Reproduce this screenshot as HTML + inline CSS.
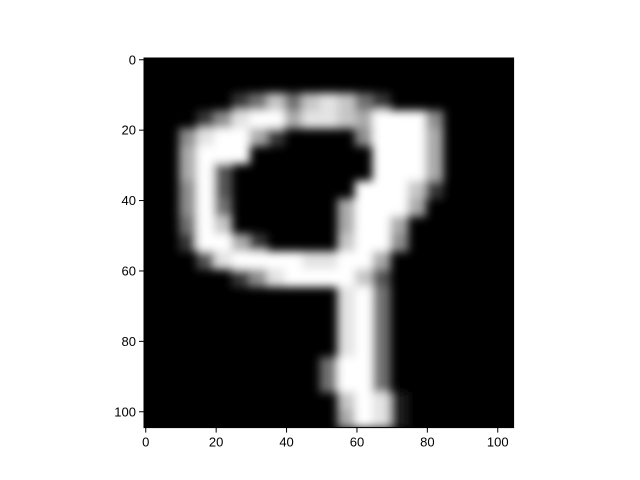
<!DOCTYPE html>
<html><head><meta charset="utf-8"><style>
body{margin:0;background:#fff;}
svg{display:block;font-family:"Liberation Sans","DejaVu Sans",sans-serif;}
</style></head><body>
<svg id="chart" width="640" height="480">
<defs>
<filter id="blur" x="-10%" y="-10%" width="120%" height="120%"><feGaussianBlur stdDeviation="4.5"/></filter>
<clipPath id="clip"><rect x="144" y="58" width="369.6" height="369.6"/></clipPath>
</defs>
<rect x="144" y="58" width="369.6" height="369.6" fill="#000"/>
<g id="cells" clip-path="url(#clip)"><g id="cellsInner" filter="url(#blur)"></g></g>
<rect x="144" y="58" width="369.6" height="369.6" fill="none" stroke="#000" stroke-width="1"/>
<g id="axes"></g>
</svg>
<script>
const rows = [
"000000000000000000000",
"000000000000000000000",
"000002474787420000000",
"000258996887699950000",
"005899620000599960000",
"006999000000099960000",
"006930000000099960000",
"005930000000999720000",
"005940000006999600000",
"004970000006996000000",
"002996200007995000000",
"000389999889960000000",
"000002589999730000000",
"000000000008940000000",
"000000000008940000000",
"000000000008940000000",
"000000000008940000000",
"000000000049940000000",
"000000000049940000000",
"000000000007981000000",
"000000000006981000000"
];
const xTicks = [0,20,40,60,80,100];
const yTicks = [0,20,40,60,80,100];
const NS="http://www.w3.org/2000/svg";
const x0=144, y0=58, size=369.6, extent=105;
const sx=v=>x0+(v+0.5)*size/extent;
const sy=v=>y0+(v+0.5)*size/extent;
const inner=document.getElementById('cellsInner');
const cpx=size/rows.length;
rows.forEach((r,i)=>{
  for(let j=0;j<r.length;j++){
    const v=+r[j]/9;
    if(v<=0) continue;
    const c=Math.round(v*255);
    const rc=document.createElementNS(NS,'rect');
    rc.setAttribute('x',x0+j*cpx-0.3);
    rc.setAttribute('y',y0+i*cpx-0.3);
    rc.setAttribute('width',cpx+0.6);
    rc.setAttribute('height',cpx+0.6);
    rc.setAttribute('fill',`rgb(${c},${c},${c})`);
    
    
    inner.appendChild(rc);
  }
});
const axes=document.getElementById('axes');
xTicks.forEach(t=>{
  const x=sx(t);
  const l=document.createElementNS(NS,'line');
  l.setAttribute('x1',x);l.setAttribute('x2',x);l.setAttribute('y1',y0+size);l.setAttribute('y2',y0+size+5);
  l.setAttribute('stroke','#000');
  
  
  axes.appendChild(l);
  const tx=document.createElementNS(NS,'text');
  tx.setAttribute('x',x);tx.setAttribute('y',y0+size+19);tx.setAttribute('text-anchor','middle');tx.setAttribute('font-size','13');
  tx.textContent=t;
  
  
  axes.appendChild(tx);
});
yTicks.forEach(t=>{
  const y=sy(t);
  const l=document.createElementNS(NS,'line');
  l.setAttribute('x1',x0-5);l.setAttribute('x2',x0);l.setAttribute('y1',y);l.setAttribute('y2',y);
  l.setAttribute('stroke','#000');
  
  
  axes.appendChild(l);
  const tx=document.createElementNS(NS,'text');
  tx.setAttribute('x',x0-8);tx.setAttribute('y',y+4.5);tx.setAttribute('text-anchor','end');tx.setAttribute('font-size','13');
  tx.textContent=t;
  
  
  axes.appendChild(tx);
});
</script>
</body></html>
